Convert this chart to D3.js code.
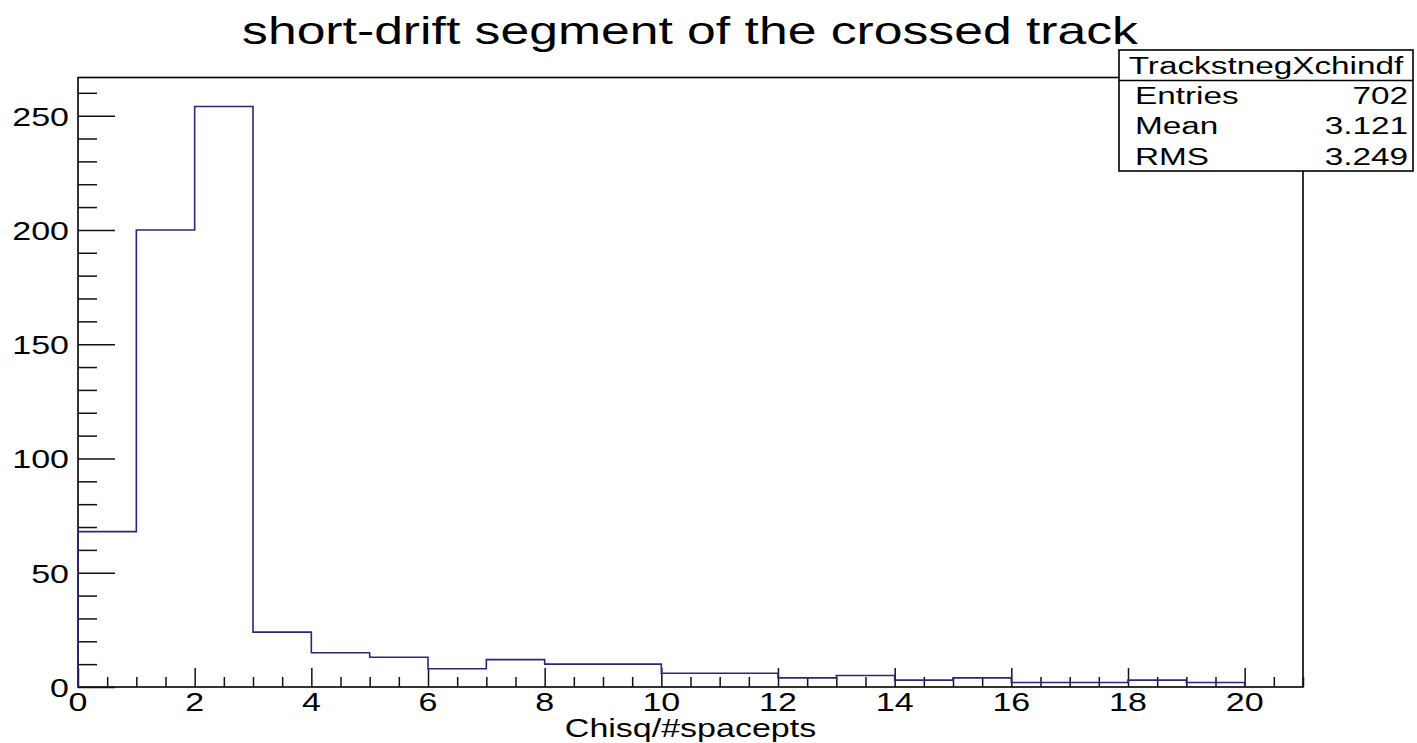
<!DOCTYPE html>
<html>
<head>
<meta charset="utf-8">
<script src="https://cdn.jsdelivr.net/npm/d3@7"></script>
<style>
  html, body { margin: 0; padding: 0; background: #fff; }
  svg { display: block; }
  text { font-family: "Liberation Sans", Arial, Helvetica, sans-serif; fill: #000; }
</style>
</head>
<body>
<svg id="chart" width="1417" height="743"></svg>
<script>
// Histogram: chi-square per space point, 20 bins of width 1 from 0 to 20
const binEdges = [0, 1, 2, 3, 4, 5, 6, 7, 8, 9, 10, 11, 12, 13, 14, 15, 16, 17, 18, 19, 20];
const binCounts = [68, 200, 254, 24, 15, 13, 8, 12, 10, 10, 6, 6, 4, 5, 3, 4, 2, 2, 3, 2];

const xTickValues = [0, 2, 4, 6, 8, 10, 12, 14, 16, 18, 20];
const yTickValues = [0, 50, 100, 150, 200, 250];

const titleText = "short-drift segment of the crossed track";
const xAxisTitle = "Chisq/#spacepts";

const statsName = "TrackstnegXchindf";
const statsLabels = ["Entries", "Mean", "RMS"];
const statsValues = ["702", "3.121", "3.249"];

// Layout (canvas is wider than tall, so text is stretched horizontally)
const sx = 1.36;
const frame = { left: 78, right: 1303, top: 77.5, bottom: 687 };
const xMax = 21;
const yMax = d3.max(binCounts) * 1.05;

const svg = d3.select("#chart");

const x = d3.scaleLinear().domain([0, xMax]).range([frame.left, frame.right]);
const y = d3.scaleLinear().domain([0, yMax]).range([frame.bottom, frame.top]);

// Frame
svg.append("rect")
  .attr("x", frame.left).attr("y", frame.top)
  .attr("width", frame.right - frame.left)
  .attr("height", frame.bottom - frame.top)
  .attr("fill", "none").attr("stroke", "#000").attr("stroke-width", 1.6);

// Ticks: x axis, ticks pointing up into the frame
const xMajorLen = 19, xMinorLen = 10;
const xMinor = d3.range(0, xMax + 0.001, 0.5).filter(v => v % 2 !== 0);
const gxMinor = svg.append("g").attr("transform", `translate(0,${frame.bottom})`)
  .call(d3.axisBottom(x).tickValues(xMinor).tickSize(-xMinorLen).tickFormat(""));
const gxMajor = svg.append("g").attr("transform", `translate(0,${frame.bottom})`)
  .call(d3.axisBottom(x).tickValues(xTickValues).tickSize(-xMajorLen).tickFormat(""));

// Ticks: y axis, ticks pointing right into the frame
const yMajorLen = 37, yMinorLen = 19;
const yMinor = d3.range(0, yMax, 10).filter(v => v % 50 !== 0);
const gyMinor = svg.append("g").attr("transform", `translate(${frame.left},0)`)
  .call(d3.axisLeft(y).tickValues(yMinor).tickSize(-yMinorLen).tickFormat(""));
const gyMajor = svg.append("g").attr("transform", `translate(${frame.left},0)`)
  .call(d3.axisLeft(y).tickValues(yTickValues).tickSize(-yMajorLen).tickFormat(""));

[gxMinor, gxMajor, gyMinor, gyMajor].forEach(g => {
  g.select(".domain").remove();
  g.selectAll(".tick line").attr("stroke", "#111").attr("stroke-width", 1.5);
});

// Tick labels
const labelSize = 25;
svg.append("g").selectAll("text").data(xTickValues).join("text")
  .attr("transform", d => `translate(${x(d)},711) scale(${sx},1)`)
  .attr("text-anchor", "middle")
  .attr("font-size", labelSize)
  .text(d => d);

svg.append("g").selectAll("text").data(yTickValues).join("text")
  .attr("transform", d => `translate(69,${y(d) + 10}) scale(${sx},1)`)
  .attr("text-anchor", "end")
  .attr("font-size", labelSize)
  .text(d => d);

// Axis title
svg.append("text")
  .attr("transform", `translate(${(frame.left + frame.right) / 2},737) scale(${sx},1)`)
  .attr("text-anchor", "middle")
  .attr("font-size", 25)
  .text(xAxisTitle);

// Histogram outline (step line)
const pts = [[binEdges[0], 0]];
binCounts.forEach((c, i) => {
  pts.push([binEdges[i], c]);
  pts.push([binEdges[i + 1], c]);
});
pts.push([binEdges[binEdges.length - 1], 0]);

svg.append("path")
  .datum(pts)
  .attr("d", d3.line().x(d => x(d[0])).y(d => y(d[1])))
  .attr("fill", "none")
  .attr("stroke", "#27277f")
  .attr("stroke-width", 1.6);

// Title
svg.append("text")
  .attr("transform", `translate(690,44) scale(${sx},1)`)
  .attr("text-anchor", "middle")
  .attr("font-size", 38)
  .text(titleText);

// Statistics box
const box = { left: 1119, right: 1413, top: 50, header: 80.5, bottom: 171 };
svg.append("rect")
  .attr("x", box.left).attr("y", box.top)
  .attr("width", box.right - box.left).attr("height", box.bottom - box.top)
  .attr("fill", "#fff").attr("stroke", "#000").attr("stroke-width", 1.6);
svg.append("line")
  .attr("x1", box.left).attr("x2", box.right)
  .attr("y1", box.header).attr("y2", box.header)
  .attr("stroke", "#000").attr("stroke-width", 1.6);

const statSize = 24.5;
svg.append("text")
  .attr("transform", `translate(${(box.left + box.right) / 2},73.5) scale(${sx},1)`)
  .attr("text-anchor", "middle")
  .attr("font-size", statSize)
  .text(statsName);

const rowY = [103.5, 134, 164.5];
svg.append("g").selectAll("text").data(statsLabels).join("text")
  .attr("transform", (d, i) => `translate(1135,${rowY[i]}) scale(${sx},1)`)
  .attr("font-size", statSize)
  .text(d => d);
svg.append("g").selectAll("text").data(statsValues).join("text")
  .attr("transform", (d, i) => `translate(1408,${rowY[i]}) scale(${sx},1)`)
  .attr("text-anchor", "end")
  .attr("font-size", statSize)
  .text(d => d);
</script>
</body>
</html>
